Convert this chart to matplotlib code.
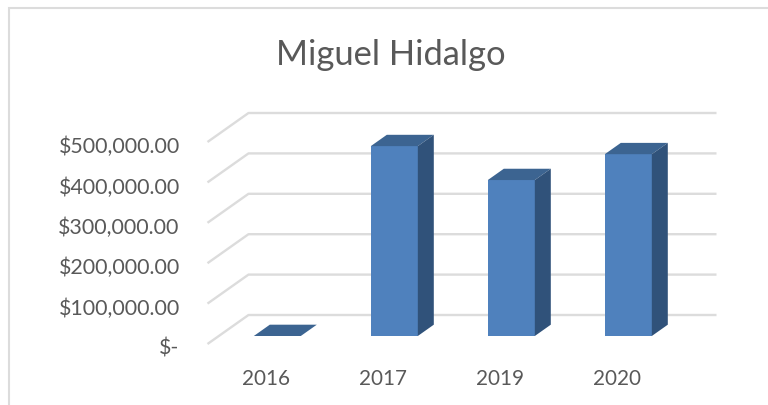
"""
3D-look column chart for Miguel Hidalgo
Output: out.png
"""

import matplotlib.pyplot as plt
from matplotlib.lines import Line2D
from matplotlib.patches import Polygon
from matplotlib.transforms import ScaledTranslation

plt.rcParams['font.family'] = ['Lato', 'DejaVu Sans']

years = ['2016', '2017', '2019', '2020']
values = [0, 470000, 386000, 450000]
y_ticks = [0, 100000, 200000, 300000, 400000, 500000]
y_labels = ['$-', '$100,000.00', '$200,000.00', '$300,000.00', '$400,000.00', '$500,000.00']

W, H = 768, 406
GRID = '#dcdcdc'
TEXT = '#595959'
FRONT = '#4f81bd'
TOP = '#3c6491'
SIDE = '#30527a'

# depth of the floor, in data units (41 px across, 29 px up)
DEPTH_X = 41 / 117
DEPTH_Y = 29 / 40.4 * 100000
# where the column sits within the floor depth
D_FRONT = 0.276
D_BACK = 0.666
BAR_W = 47 / 117


def draw_walls(ax):
    """Horizontal lines on the back wall and diagonals on the side wall."""
    x0, x1 = -0.5, 3.5
    for v in y_ticks:
        ax.plot([x0, x0 + DEPTH_X, x1 + DEPTH_X], [v, v + DEPTH_Y, v + DEPTH_Y],
                color=GRID, lw=1.7, clip_on=False, zorder=1, solid_capstyle='butt')


def draw_column(ax, x, v):
    """Front face with ax.bar, top and side as polygons."""
    fx = x + D_FRONT * DEPTH_X
    base = D_FRONT * DEPTH_Y
    dx = (D_BACK - D_FRONT) * DEPTH_X
    dy = (D_BACK - D_FRONT) * DEPTH_Y
    left, right = fx - BAR_W / 2, fx + BAR_W / 2
    ax.bar(fx, v, BAR_W, bottom=base, color=FRONT, clip_on=False, zorder=3)
    top = [(left, base + v), (right, base + v), (right + dx, base + v + dy), (left + dx, base + v + dy)]
    ax.add_patch(Polygon(top, closed=True, fc=TOP, ec='none', clip_on=False, zorder=3))
    if v > 0:
        side = [(right, base), (right + dx, base + dy), (right + dx, base + v + dy), (right, base + v)]
        ax.add_patch(Polygon(side, closed=True, fc=SIDE, ec='none', clip_on=False, zorder=3))


fig = plt.figure(figsize=(W / 100, H / 100), dpi=100)
ax = fig.add_axes([207.5 / W, 1 - 345 / H, 468 / W, 202 / H])
ax.set_xlim(-0.5, 3.5)
ax.set_ylim(0, 500000)
for s in ax.spines.values():
    s.set_visible(False)

draw_walls(ax)
for i, v in enumerate(values):
    draw_column(ax, i, v)

ax.set_xticks(range(len(years)), years)
ax.set_yticks(y_ticks, y_labels)
ax.tick_params(axis='x', length=0, pad=17, labelsize=14.9, labelcolor=TEXT)
ax.tick_params(axis='y', length=0, pad=20, labelsize=15.4, labelcolor=TEXT)

# value labels sit a little below their lines
shift = ScaledTranslation(0, -2 / 100, fig.dpi_scale_trans)
for lab in ax.get_yticklabels():
    lab.set_transform(lab.get_transform() + shift)

# chart frame, only the top and left edges are inside the crop
fig.add_artist(Line2D([8.5 / W, 8.5 / W, 1], [0, 1 - 8.5 / H, 1 - 8.5 / H],
                      color=GRID, lw=1.5, solid_joinstyle='miter'))

fig.text(391 / W, 1 - 55 / H, 'Miguel Hidalgo', ha='center', va='center',
         fontsize=24.8, color=TEXT)

fig.savefig('out.png', dpi=100)
